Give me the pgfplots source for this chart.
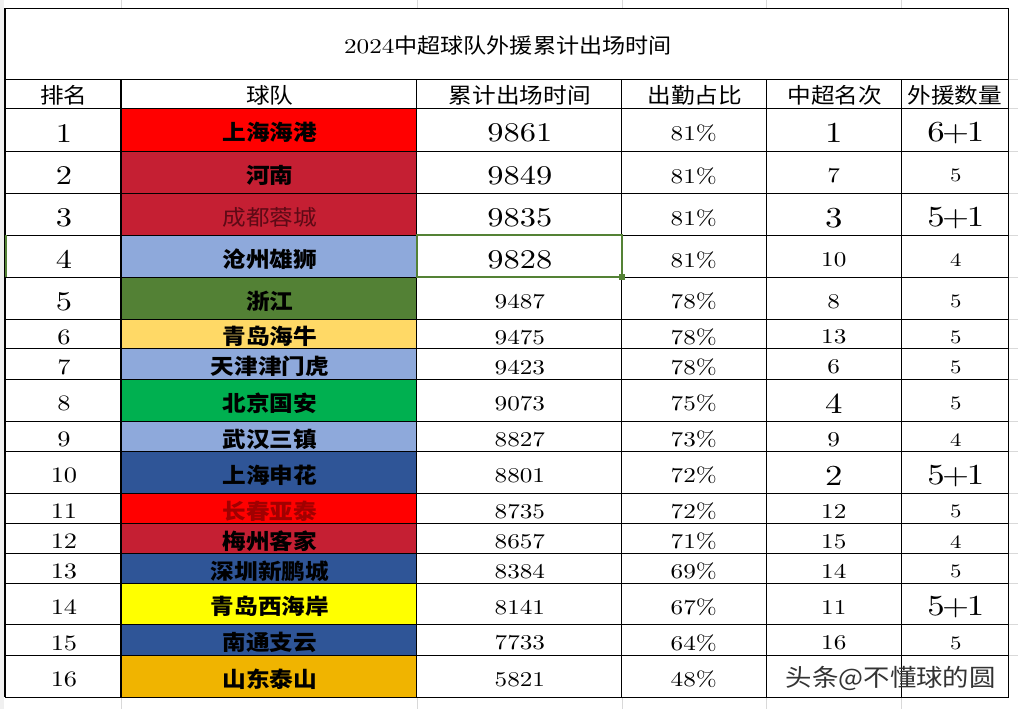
\documentclass[border=0pt]{standalone}
\usepackage{fontspec}
\usepackage{pgfplots}
\usepackage{pgfplotstable}
\pgfplotsset{compat=1.18}
\setmainfont{lmroman10-regular.otf}[FakeStretch=1.2, BoldFont=lmroman10-bold.otf]
\newfontfamily\cjk{Noto Sans CJK SC}[FakeStretch=1.1]

\definecolor{cRed}{HTML}{FF0000}
\definecolor{cCrim}{HTML}{C51F33}
\definecolor{cLB}{HTML}{8EA9DB}
\definecolor{cGrn}{HTML}{538135}
\definecolor{cYl}{HTML}{FFD966}
\definecolor{cBG}{HTML}{00B050}
\definecolor{cDB}{HTML}{2F5597}
\definecolor{cYY}{HTML}{FFFF00}
\definecolor{cOr}{HTML}{F0B400}
\definecolor{cSel}{HTML}{548235}
\definecolor{cGrid}{HTML}{D9D9D9}

\protected\def\BG#1{{\fontsize{27}{27}\selectfont #1}}
\protected\def\BGG#1{{\fontsize{29}{29}\selectfont #1}}
\protected\def\PL{\kern-2.5pt+\kern-2.5pt}
\protected\def\TN#1{{\mdseries\color[HTML]{5E0A16}#1}}
\protected\def\TR#1{{\color[HTML]{A00000}#1}}

\pgfplotstableread[col sep=comma]{
y,rk,team,mins,pct,pos,fa
129.5,\BG{1},上海海港,\BG{9861},81\%,\BGG{1},\BGG{6\PL1}
172,\BG{2},河南,\BG{9849},81\%,7,5
214,\BG{3},\TN{成都蓉城},\BG{9835},81\%,\BGG{3},\BGG{5\PL1}
256,\BG{4},沧州雄狮,\BG{9828},81\%,10,4
298,\BG{5},浙江,9487,78\%,8,5
333.5,6,青岛海牛,9475,78\%,13,5
363.5,7,天津津门虎,9423,78\%,6,5
400,8,北京国安,9073,75\%,\BGG{4},5
436,9,武汉三镇,8827,73\%,9,4
472,10,上海申花,8801,72\%,\BGG{2},\BGG{5\PL1}
508,11,\TR{长春亚泰},8735,72\%,12,5
538,12,梅州客家,8657,71\%,15,4
568,13,深圳新鹏城,8384,69\%,14,5
603.5,14,青岛西海岸,8141,67\%,11,\BGG{5\PL1}
639.5,15,南通支云,7733,64\%,16,5
676,16,山东泰山,5821,48\%,{},{}
}\data

\pgfplotsset{
  txt/.style={draw=none, mark=none, nodes near coords, point meta=explicit symbolic,
    every node near coord/.append style={anchor=center, inner sep=0pt, text=black, font=#1}},
}

\begin{document}
\begin{tikzpicture}
\begin{axis}[
  width=1018pt, height=709pt, scale only axis,
  xmin=0, xmax=1018, ymin=0, ymax=709, y dir=reverse,
  hide axis, clip=false,
]
\fill[white] (axis cs:0,0) rectangle (axis cs:1018,709);
\fill[gray!12] (axis cs:0,0) rectangle (axis cs:4,709);
% faint spreadsheet grid outside the table
\pgfplotsinvokeforeach{121,417,622,767,902}{
  \draw[cGrid, line width=0.6pt] (axis cs:#1,0) -- (axis cs:#1,8);
  \draw[cGrid, line width=0.6pt] (axis cs:#1,697) -- (axis cs:#1,709);
}
\pgfplotsinvokeforeach{79,108,151,193,235,277,319,348,379,421,451,493,523,553,583,624,655}{
  \draw[cGrid, line width=0.6pt] (axis cs:1009,#1) -- (axis cs:1018,#1);
}
% team colour fills
\fill[cRed]  (axis cs:121,108) rectangle (axis cs:417,151);
\fill[cCrim] (axis cs:121,151) rectangle (axis cs:417,193);
\fill[cCrim] (axis cs:121,193) rectangle (axis cs:417,235);
\fill[cLB]   (axis cs:121,235) rectangle (axis cs:417,277);
\fill[cGrn]  (axis cs:121,277) rectangle (axis cs:417,319);
\fill[cYl]   (axis cs:121,319) rectangle (axis cs:417,348);
\fill[cLB]   (axis cs:121,348) rectangle (axis cs:417,379);
\fill[cBG]   (axis cs:121,379) rectangle (axis cs:417,421);
\fill[cLB]   (axis cs:121,421) rectangle (axis cs:417,451);
\fill[cDB]   (axis cs:121,451) rectangle (axis cs:417,493);
\fill[cRed]  (axis cs:121,493) rectangle (axis cs:417,523);
\fill[cCrim] (axis cs:121,523) rectangle (axis cs:417,553);
\fill[cDB]   (axis cs:121,553) rectangle (axis cs:417,583);
\fill[cYY]   (axis cs:121,583) rectangle (axis cs:417,624);
\fill[cDB]   (axis cs:121,624) rectangle (axis cs:417,655);
\fill[cOr]   (axis cs:121,655) rectangle (axis cs:417,697);
% table rules
\pgfplotsinvokeforeach{8,79,108,151,193,235,277,319,348,379,421,451,493,523,553,583,624,655,697}{
  \draw[black, line width=1.1pt] (axis cs:5,#1) -- (axis cs:1009,#1);
}
\draw[black, line width=1.1pt] (axis cs:5,8) -- (axis cs:5,697);
\draw[black, line width=1.1pt] (axis cs:1009,8) -- (axis cs:1009,697);
\pgfplotsinvokeforeach{121,417,622,767,902}{
  \draw[black, line width=1.1pt] (axis cs:#1,79) -- (axis cs:#1,697);
}
% selected cell
\draw[cSel, line width=2.2pt] (axis cs:417,235) rectangle (axis cs:622,277);
\fill[cSel] (axis cs:619,274) rectangle (axis cs:625,280);
\draw[cSel, line width=1.8pt] (axis cs:6,235) -- (axis cs:6,277);
% title and headers
\node[anchor=center] at (axis cs:508,45) {\fontsize{21}{21}\selectfont 2024\cjk 中超球队外援累计出场时间};
\node[anchor=center] at (axis cs:64,95) {\cjk\fontsize{21.5}{22}\selectfont 排名};
\node[anchor=center] at (axis cs:270,95) {\cjk\fontsize{21.5}{22}\selectfont 球队};
\node[anchor=center] at (axis cs:520,95) {\cjk\fontsize{21.5}{22}\selectfont 累计出场时间};
\node[anchor=center] at (axis cs:695,95) {\cjk\fontsize{21.5}{22}\selectfont 出勤占比};
\node[anchor=center] at (axis cs:835,95) {\cjk\fontsize{21.5}{22}\selectfont 中超名次};
\node[anchor=center] at (axis cs:955,95) {\cjk\fontsize{21.5}{22}\selectfont 外援数量};
% data cells
\addplot[txt={\fontsize{22}{22}\selectfont}] table[x expr=64, y expr=\thisrow{y}+3.5, meta=rk] {\data};
\addplot[txt={\cjk\bfseries\fontsize{21.5}{22}\selectfont}] table[x expr=270, y expr=\thisrow{y}+3, meta=team] {\data};
\addplot[txt={\fontsize{21}{21}\selectfont}] table[x expr=520, y expr=\thisrow{y}+3.5, meta=mins] {\data};
\addplot[txt={\fontsize{21}{21}\selectfont}] table[x expr=694, y expr=\thisrow{y}+3.5, meta=pct] {\data};
\addplot[txt={\fontsize{21}{21}\selectfont}] table[x expr=834, y expr=\thisrow{y}+3.5, meta=pos] {\data};
\addplot[txt={\fontsize{19}{19}\selectfont}] table[x expr=956, y expr=\thisrow{y}+3.5, meta=fa] {\data};
% watermark
\node[anchor=center, text=black!80] at (axis cs:891,678) {\cjk\fontsize{24}{24}\selectfont 头条@不懂球的圆};
\end{axis}
\end{tikzpicture}
\end{document}
